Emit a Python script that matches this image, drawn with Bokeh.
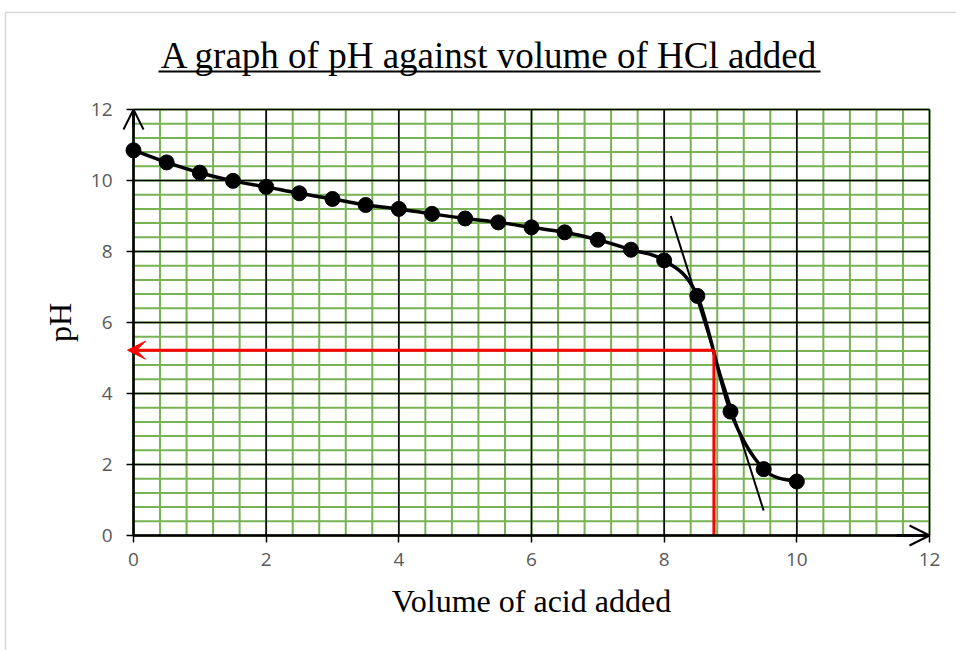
from bokeh.plotting import figure
from bokeh.models import FixedTicker, Arrow, OpenHead, VeeHead, ColumnDataSource
from bokeh.core.properties import value
from bokeh.embed import file_html
from bokeh.resources import INLINE

# ---- data ----
volume = [0, 0.5, 1, 1.5, 2, 2.5, 3, 3.5, 4, 4.5, 5, 5.5, 6, 6.5, 7, 7.5, 8, 8.5, 9, 9.5, 10]
ph = [10.85, 10.51, 10.22, 9.99, 9.82, 9.64, 9.48, 9.31, 9.20, 9.06, 8.93, 8.82, 8.68, 8.54, 8.33, 8.05, 7.75, 6.75, 3.49, 1.87, 1.52]
tangent_x = [8.1, 9.5]
tangent_y = [9.0, 0.7]
endpoint_volume = 8.75
endpoint_ph = 5.22
major_ticks = [0, 2, 4, 6, 8, 10, 12]
minor_ticks = [round(i * 0.4, 2) for i in range(0, 31)]
axis_min, axis_max = 0, 12

title_text = "A graph of pH against volume of HCl added"
x_label = "Volume of acid added"
y_label = "pH"

# ---- geometry: the plot frame covers the whole canvas; axes sit at x=0 / y=0 ----
W, H = 956, 650
X0_PX, X12_PX = 133, 929      # pixel columns of x=0 and x=12
Y0_PX, Y12_PX = 535, 109      # pixel rows of y=0 and y=12
sx = (X12_PX - X0_PX) / 12.0
sy = (Y0_PX - Y12_PX) / 12.0
def dx(px):
    return (px - X0_PX) / sx
def dy(py):
    return (Y0_PX - py) / sy

p = figure(width=W, height=H, x_range=(dx(0), dx(W)), y_range=(dy(H), dy(0)),
           output_backend="svg", toolbar_location=None, min_border=0)
p.background_fill_color = "white"
p.border_fill_color = "white"
p.outline_line_color = None
p.xgrid.visible = False
p.ygrid.visible = False

GREEN = "#77B255"
# minor (green) grid
p.segment(x0=minor_ticks, y0=[axis_min] * len(minor_ticks), x1=minor_ticks, y1=[axis_max] * len(minor_ticks),
          line_color=GREEN, line_width=2)
p.segment(x0=[axis_min] * len(minor_ticks), y0=minor_ticks, x1=[axis_max] * len(minor_ticks), y1=minor_ticks,
          line_color=GREEN, line_width=2)
# major (black) grid
p.segment(x0=major_ticks, y0=[axis_min] * len(major_ticks), x1=major_ticks, y1=[axis_max] * len(major_ticks),
          line_color="black", line_width=1.5)
p.segment(x0=[axis_min] * len(major_ticks), y0=major_ticks, x1=[axis_max] * len(major_ticks), y1=major_ticks,
          line_color="black", line_width=1.5)

for ax in (p.xaxis[0], p.yaxis[0]):
    ax.ticker = FixedTicker(ticks=major_ticks, minor_ticks=minor_ticks)
    ax.bounds = (axis_min, axis_max)
    ax.fixed_location = 0
    ax.minor_tick_line_color = None
    ax.major_tick_in = 0
    ax.major_tick_out = 7
    ax.major_tick_line_color = "black"
    ax.major_tick_line_width = 1.5
    ax.axis_line_color = "black"
    ax.axis_line_width = 2.5
    ax.major_label_text_font = "Open Sans"
    ax.major_label_text_font_size = "19px"
    ax.major_label_text_color = "#595959"
    ax.axis_label_text_font = "Liberation Serif"
    ax.axis_label_text_font_size = "32px"
    ax.axis_label_text_font_style = "normal"
    ax.axis_label_text_color = "black"

p.xaxis.axis_label = x_label
p.yaxis.axis_label = y_label
p.xaxis.major_label_standoff = 10
p.yaxis.major_label_standoff = 14
p.xaxis.axis_label_standoff = 14
p.yaxis.axis_label_standoff = 10

# smooth curve through the points (Catmull-Rom style Bezier like a spreadsheet smoothed line)
n = len(volume)
x0, y0, x1, y1, cx0, cy0, cx1, cy1 = [], [], [], [], [], [], [], []
for i in range(n - 1):
    pxm, pym = (volume[i - 1], ph[i - 1]) if i > 0 else (volume[i], ph[i])
    pxp, pyp = (volume[i + 2], ph[i + 2]) if i + 2 < n else (volume[i + 1], ph[i + 1])
    x0.append(volume[i]); y0.append(ph[i])
    x1.append(volume[i + 1]); y1.append(ph[i + 1])
    cx0.append(volume[i] + (volume[i + 1] - pxm) / 6.0)
    cy0.append(ph[i] + (ph[i + 1] - pym) / 6.0)
    cx1.append(volume[i + 1] - (pxp - volume[i]) / 6.0)
    cy1.append(ph[i + 1] - (pyp - ph[i]) / 6.0)
curve = ColumnDataSource(dict(x0=x0, y0=y0, x1=x1, y1=y1, cx0=cx0, cy0=cy0, cx1=cx1, cy1=cy1))
p.bezier(x0="x0", y0="y0", x1="x1", y1="y1", cx0="cx0", cy0="cy0", cx1="cx1", cy1="cy1",
         source=curve, line_color="black", line_width=3.5)

# tangent line
p.line(tangent_x, tangent_y, line_color="black", line_width=2)

# red reading lines
p.line([endpoint_volume, endpoint_volume], [axis_min, endpoint_ph], line_color="#FF0000", line_width=3)
p.add_layout(Arrow(end=VeeHead(size=18, fill_color="#FF0000", line_color="#FF0000", line_width=1),
                   x_start=endpoint_volume, y_start=endpoint_ph, x_end=dx(127), y_end=endpoint_ph,
                   line_color="#FF0000", line_width=3))

# data points
p.scatter(volume, ph, size=15, fill_color="black", line_color="black")

# axis arrowheads
p.add_layout(Arrow(end=OpenHead(size=20, line_width=2, line_color="black"),
                   x_start=0, y_start=11.5, x_end=0, y_end=axis_max, line_width=2.5, line_color="black"))
p.add_layout(Arrow(end=OpenHead(size=20, line_width=2, line_color="black"),
                   x_start=11.5, y_start=0, x_end=axis_max, y_end=0, line_width=2.5, line_color="black"))

# title with underline
p.text(x=[dx(489)], y=[dy(55)], text=[title_text], text_align="center", text_baseline="alphabetic",
       text_font=value("Liberation Serif"), text_font_size="37px", text_color="black")
p.line([dx(158), dx(820)], [dy(71), dy(71)], line_color="black", line_width=2)

# light chart-area border
p.line([dx(5), dx(5), dx(W + 5)], [dy(H + 5), dy(12), dy(12)], line_color="#D9D9D9", line_width=1.5)

open("out.html", "w").write(file_html(p, INLINE))
